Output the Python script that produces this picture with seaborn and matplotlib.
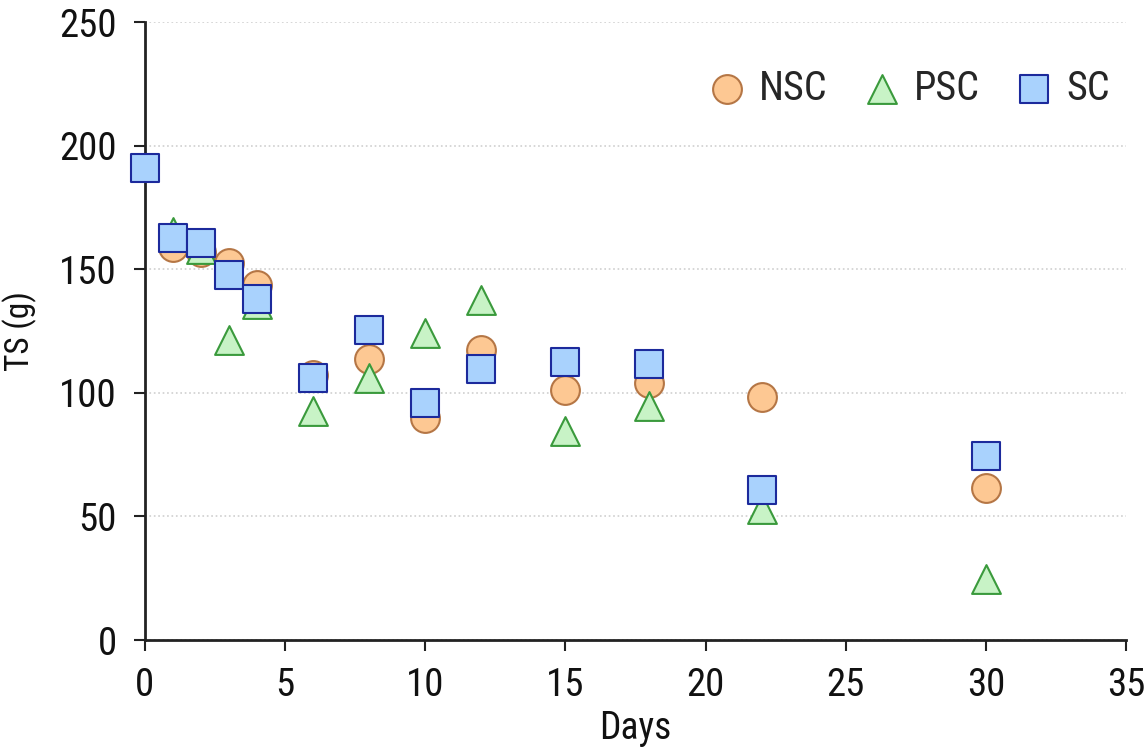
import pandas as pd
import matplotlib.pyplot as plt
import seaborn as sns

# data
days = [0, 1, 2, 3, 4, 6, 8, 10, 12, 15, 18, 22, 30]
days_nsc = [1, 2, 3, 4, 6, 8, 10, 12, 15, 18, 22, 30]
nsc = [159, 157, 152.5, 143.5, 107, 113.5, 90, 117.5, 101, 104, 98.5, 61.5]
days_psc = [1, 2, 3, 4, 6, 8, 10, 12, 15, 18, 22, 30]
psc = [165, 158, 121.5, 136, 92.5, 106, 124, 137.5, 84.5, 94.5, 53, 24.5]
sc = [191, 162.5, 160.5, 147.5, 138, 106, 125.5, 96, 109.5, 112.5, 111.5, 60.5, 74.5]

groups = ['NSC', 'PSC', 'SC']
face = {'NSC': '#fdc893', 'PSC': '#c8f3c6', 'SC': '#a9d2fd'}
edge = {'NSC': '#b57645', 'PSC': '#3a9a3c', 'SC': '#1c2a9c'}
marks = {'NSC': 'o', 'PSC': '^', 'SC': 's'}

df = pd.concat([
    pd.DataFrame({'Days': days_nsc, 'TS': nsc, 'Group': 'NSC'}),
    pd.DataFrame({'Days': days_psc, 'TS': psc, 'Group': 'PSC'}),
    pd.DataFrame({'Days': days, 'TS': sc, 'Group': 'SC'}),
], ignore_index=True)

sns.set_theme(style="white")
plt.rcParams['font.family'] = ['Liberation Sans Narrow', 'Arial Narrow', 'Roboto Condensed',
                               'IBM Plex Sans Condensed', 'Liberation Sans', 'DejaVu Sans']

fig = plt.figure(figsize=(11.45, 7.51), dpi=100)
ax = fig.add_axes([0.1266, 0.1478, 0.9834 - 0.1266, 0.9707 - 0.1478])

for g in groups:
    sns.scatterplot(data=df[df['Group'] == g], x='Days', y='TS', ax=ax,
                    marker=marks[g], color=face[g], edgecolor=edge[g],
                    linewidth=1.5, s=430, label=g, zorder=3, clip_on=False)

ax.set_xlim(0, 35)
ax.set_ylim(0, 250)
ax.set_xticks(range(0, 36, 5))
ax.set_yticks(range(0, 251, 50))
ax.yaxis.grid(True, color='#cfcfcf', linestyle=':', linewidth=1.2)
ax.xaxis.grid(False)
for side in ['top', 'right']:
    ax.spines[side].set_visible(False)
for side in ['left', 'bottom']:
    ax.spines[side].set_color('#222222')
    ax.spines[side].set_linewidth(2)
ax.tick_params(axis='both', direction='out', length=8, width=1.5,
               color='#222222', labelsize=28, labelcolor='#111111')
ax.tick_params(axis='x', bottom=True, pad=11.5)
ax.tick_params(axis='y', left=True, pad=12)

ax.set_xlabel('Days', fontsize=27, labelpad=4, color='#111111')
ax.set_ylabel('TS (g)', fontsize=24, labelpad=16, color='#111111')

ax.legend(loc='center right', bbox_to_anchor=(0.984, 0.893), ncol=3, frameon=False,
          fontsize=29, handlelength=1.0, handletextpad=0.3, columnspacing=0.85,
          borderpad=0, borderaxespad=0)

plt.savefig("out.png", dpi=100)
